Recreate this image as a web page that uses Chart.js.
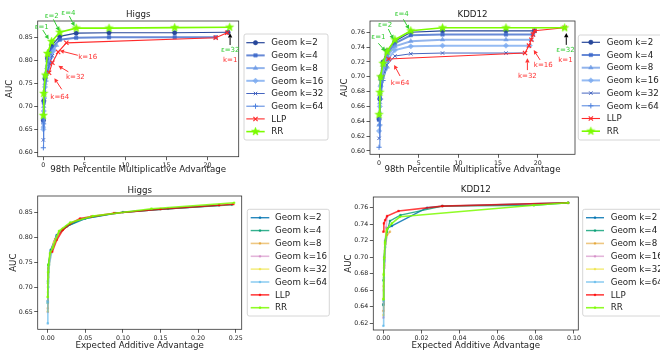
<!DOCTYPE html>
<html><head><meta charset="utf-8">
<script src="https://cdn.jsdelivr.net/npm/chart.js@4.4.1/dist/chart.umd.min.js"></script>
<style>
html,body{margin:0;padding:0;background:#fff;}
#wrap{position:relative;width:660px;height:352px;overflow:hidden;}
canvas{position:absolute;}
</style></head><body>
<div id="wrap">
<canvas id="c1" width="330" height="176" style="left:0;top:0"></canvas>
<canvas id="c2" width="330" height="176" style="left:330px;top:0"></canvas>
<canvas id="c3" width="330" height="176" style="left:0;top:176px"></canvas>
<canvas id="c4" width="330" height="176" style="left:330px;top:176px"></canvas>
</div>
<script>
// ---------- labels ----------
const seriesLabels = ['Geom k=2','Geom k=4','Geom k=8','Geom k=16','Geom k=32','Geom k=64','LLP','RR'];
const datasetNames = ['Higgs','KDD12'];
const mulLabel = '98th Percentile Multiplicative Advantage';
const addLabel = 'Expected Additive Advantage';

// ---------- Higgs, multiplicative (top-left) ----------
const hmX_g2 = [0, 0.05, 0.2, 0.5, 1, 2, 4, 8, 16, 22.5];
const hmY_g2 = [0.670, 0.712, 0.760, 0.805, 0.832, 0.852, 0.859, 0.860, 0.860, 0.861];
const hmX_g4 = [0, 0.05, 0.2, 0.5, 1, 2, 4, 8, 16, 21.0];
const hmY_g4 = [0.668, 0.708, 0.765, 0.800, 0.826, 0.845, 0.849, 0.850, 0.850, 0.850];
const hmX_g8 = [0, 0.05, 0.2, 0.5, 1, 1.6];
const hmY_g8 = [0.657, 0.700, 0.750, 0.790, 0.816, 0.833];
const hmX_g16 = [0, 0.05, 0.2, 0.45, 0.9, 1.3];
const hmY_g16 = [0.650, 0.690, 0.742, 0.782, 0.806, 0.822];
const hmX_g32 = [0, 0.04, 0.15, 0.4, 0.75, 1.1];
const hmY_g32 = [0.627, 0.680, 0.730, 0.770, 0.792, 0.810];
const hmX_g64 = [0, 0.03, 0.12, 0.3, 0.6, 0.9];
const hmY_g64 = [0.610, 0.662, 0.718, 0.755, 0.776, 0.796];
const hmX_llp = [0.7, 1.1, 1.8, 2.8, 21.0, 22.4];
const hmY_llp = [0.773, 0.795, 0.818, 0.838, 0.849, 0.860];
const hmX_rr = [0, 0.05, 0.25, 0.5, 1, 2, 4, 8, 16, 22.7];
const hmY_rr = [0.680, 0.728, 0.768, 0.815, 0.841, 0.861, 0.870, 0.870, 0.871, 0.872];
const hmXTicks = [0, 5, 10, 15, 20];
const hmYTicks = [0.60, 0.65, 0.70, 0.75, 0.80, 0.85];

// ---------- KDD12, multiplicative (top-right) ----------
const kmX_g2 = [0, 0.1, 0.2, 0.5, 1, 2, 4, 8, 16, 19.6];
const kmY_g2 = [0.643, 0.670, 0.700, 0.720, 0.735, 0.748, 0.760, 0.762, 0.762, 0.762];
const kmX_g4 = [0, 0.1, 0.2, 0.5, 1, 2, 4, 8, 16, 19.4];
const kmY_g4 = [0.642, 0.672, 0.697, 0.716, 0.731, 0.745, 0.756, 0.757, 0.757, 0.757];
const kmX_g8 = [0, 0.1, 0.2, 0.5, 1, 2, 4, 8, 16, 19.2];
const kmY_g8 = [0.635, 0.665, 0.690, 0.712, 0.727, 0.741, 0.748, 0.750, 0.750, 0.750];
const kmX_g16 = [0, 0.1, 0.2, 0.5, 1, 2, 4, 8, 16, 19.0];
const kmY_g16 = [0.627, 0.660, 0.687, 0.708, 0.722, 0.736, 0.741, 0.742, 0.742, 0.742];
const kmX_g32 = [0, 0.1, 0.2, 0.5, 1, 2, 4, 8, 16, 18.4];
const kmY_g32 = [0.617, 0.650, 0.680, 0.700, 0.716, 0.728, 0.731, 0.732, 0.732, 0.732];
const kmX_g64 = [0, 0.1, 0.2, 0.5, 1, 1.2];
const kmY_g64 = [0.605, 0.635, 0.670, 0.695, 0.712, 0.724];
const kmX_llp = [1.2, 18.4, 18.9, 19.2, 19.4, 19.6, 23.4];
const kmY_llp = [0.724, 0.732, 0.742, 0.750, 0.757, 0.762, 0.766];
const kmX_rr = [0, 0.1, 0.2, 0.5, 1, 2, 4, 8, 16, 23.4];
const kmY_rr = [0.649, 0.679, 0.700, 0.718, 0.734, 0.750, 0.762, 0.766, 0.766, 0.766];
const kmXTicks = [0, 5, 10, 15, 20];
const kmYTicks = [0.60, 0.62, 0.64, 0.66, 0.68, 0.70, 0.72, 0.74, 0.76];

// ---------- Higgs, additive (bottom-left) ----------
const haX_g2 = [0, 0.0003, 0.001, 0.004, 0.012, 0.026, 0.05, 0.10, 0.16, 0.228];
const haY_g2 = [0.672, 0.712, 0.745, 0.775, 0.805, 0.823, 0.838, 0.851, 0.858, 0.865];
const haX_g4 = [0, 0.0003, 0.001, 0.004, 0.012, 0.025, 0.045, 0.09, 0.15, 0.245];
const haY_g4 = [0.668, 0.708, 0.745, 0.772, 0.803, 0.822, 0.837, 0.849, 0.857, 0.866];
const haX_g8 = [0, 0.0003, 0.001, 0.004, 0.01, 0.02];
const haY_g8 = [0.657, 0.700, 0.738, 0.770, 0.797, 0.818];
const haX_g16 = [0, 0.0003, 0.001, 0.003, 0.009, 0.016];
const haY_g16 = [0.650, 0.690, 0.730, 0.765, 0.793, 0.812];
const haX_g32 = [0, 0.0002, 0.001, 0.003, 0.008, 0.014];
const haY_g32 = [0.651, 0.680, 0.720, 0.760, 0.790, 0.808];
const haX_g64 = [0, 0.0002, 0.0008, 0.002, 0.006, 0.012];
const haY_g64 = [0.627, 0.670, 0.700, 0.745, 0.775, 0.800];
const haX_llp = [0.006, 0.012, 0.02, 0.03, 0.043, 0.058, 0.088, 0.15, 0.228, 0.247];
const haY_llp = [0.771, 0.795, 0.815, 0.828, 0.838, 0.842, 0.849, 0.857, 0.865, 0.867];
const haX_rr = [0, 0.0005, 0.001, 0.003, 0.007, 0.015, 0.03, 0.06, 0.138, 0.248];
const haY_rr = [0.680, 0.730, 0.745, 0.768, 0.780, 0.813, 0.830, 0.843, 0.858, 0.870];
const haXTicks = [0, 0.05, 0.10, 0.15, 0.20, 0.25];
const haYTicks = [0.65, 0.70, 0.75, 0.80, 0.85];

// ---------- KDD12, additive (bottom-right) ----------
const kaX_g2 = [0, 0.0002, 0.0005, 0.001, 0.002, 0.0045, 0.023, 0.031, 0.097];
const kaY_g2 = [0.643, 0.672, 0.700, 0.720, 0.735, 0.738, 0.760, 0.762, 0.766];
const kaX_g4 = [0, 0.0002, 0.0005, 0.001, 0.002, 0.0035, 0.009, 0.031, 0.079, 0.097];
const kaY_g4 = [0.642, 0.672, 0.697, 0.716, 0.731, 0.744, 0.751, 0.762, 0.763, 0.766];
const kaX_g8 = [0, 0.0002, 0.0005, 0.001, 0.002, 0.0035];
const kaY_g8 = [0.635, 0.665, 0.690, 0.712, 0.727, 0.731];
const kaX_g16 = [0, 0.0002, 0.0004, 0.0008, 0.0015, 0.002];
const kaY_g16 = [0.627, 0.660, 0.687, 0.708, 0.736, 0.749];
const kaX_g32 = [0, 0.0001, 0.0003, 0.0006, 0.001, 0.0015];
const kaY_g32 = [0.630, 0.650, 0.680, 0.700, 0.716, 0.732];
const kaX_g64 = [0, 0.0001, 0.0003, 0.0006, 0.001, 0.0015];
const kaY_g64 = [0.617, 0.647, 0.675, 0.695, 0.712, 0.724];
const kaX_llp = [0, 0.0003, 0.001, 0.002, 0.008, 0.031, 0.097];
const kaY_llp = [0.731, 0.741, 0.745, 0.750, 0.756, 0.762, 0.766];
const kaX_rr = [0, 0.0002, 0.0005, 0.0009, 0.002, 0.0045, 0.0087, 0.079, 0.097];
const kaY_rr = [0.649, 0.679, 0.699, 0.718, 0.734, 0.741, 0.749, 0.763, 0.766];
const kaXTicks = [0, 0.02, 0.04, 0.06, 0.08, 0.10];
const kaYTicks = [0.62, 0.64, 0.66, 0.68, 0.70, 0.72, 0.74, 0.76];

// ---------- styles ----------
Chart.defaults.font.family = '"DejaVu Sans", sans-serif';
const FONT = '"DejaVu Sans", sans-serif';

function starCanvas(color, R) {
  const s = Math.ceil(2 * R + 2), c = document.createElement('canvas');
  c.width = s; c.height = s;
  const g = c.getContext('2d');
  g.beginPath();
  for (let i = 0; i < 10; i++) {
    const r = i % 2 === 0 ? R : R * 0.42;
    const a = -Math.PI / 2 + i * Math.PI / 5;
    const px = s / 2 + r * Math.cos(a), py = s / 2 + r * Math.sin(a);
    i === 0 ? g.moveTo(px, py) : g.lineTo(px, py);
  }
  g.closePath();
  g.fillStyle = color; g.fill();
  g.lineWidth = 0.6; g.strokeStyle = color; g.stroke();
  return c;
}

const topStyles = [
  {c: '#27479a', w: 1.2, ps: 'circle', r: 2.2, bw: 0.5},
  {c: 'rgba(52,98,200,0.75)', w: 2, ps: 'rect', r: 2.5, bw: 0.5},
  {c: 'rgba(100,148,228,0.7)', w: 2, ps: 'triangle', r: 2.7, bw: 0.5},
  {c: 'rgba(122,170,240,0.8)', w: 2, ps: 'rectRot', r: 2.7, bw: 0.5},
  {c: '#4666c0', w: 1, ps: 'crossRot', r: 2.4, bw: 1},
  {c: '#4f82de', w: 1, ps: 'cross', r: 2.6, bw: 1},
  {c: '#ff2a2a', w: 1.1, ps: 'crossRot', r: 3, bw: 1.1},
  {c: '#7cfc00', w: 1.6, ps: starCanvas('#7cfc00', 4.2), r: 4, bw: 0}
];
const botStyles = [
  {c: 'rgba(1,115,178,0.85)', w: 1.4, ps: 'rect', r: 1.2, bw: 0.5},
  {c: 'rgba(2,158,115,0.8)', w: 1.4, ps: 'rect', r: 1.2, bw: 0.5},
  {c: 'rgba(222,143,5,0.5)', w: 1.6, ps: 'rect', r: 1.2, bw: 0.5},
  {c: 'rgba(204,120,188,0.55)', w: 1.6, ps: 'rect', r: 1.2, bw: 0.5},
  {c: 'rgba(236,225,51,0.6)', w: 1.6, ps: 'rect', r: 1.2, bw: 0.5},
  {c: 'rgba(86,180,233,0.65)', w: 1.6, ps: 'rect', r: 1.2, bw: 0.5},
  {c: 'rgba(255,0,0,0.75)', w: 1.6, ps: 'rect', r: 1.2, bw: 0.5},
  {c: 'rgba(124,252,0,0.85)', w: 1.6, ps: 'rect', r: 1.2, bw: 0.5}
];

function buildSets(xs, ys, styles) {
  return xs.map((xa, i) => {
    const s = styles[i];
    return {
      label: seriesLabels[i],
      data: xa.map((x, j) => ({x: x, y: ys[i][j]})),
      showLine: true, tension: 0, fill: false,
      borderColor: s.c, backgroundColor: s.c, borderWidth: s.w,
      pointStyle: s.ps, pointRadius: s.r, pointBorderWidth: s.bw,
      pointBorderColor: s.c, pointBackgroundColor: s.c,
      order: xs.length - i
    };
  });
}

// ---------- decoration plugin ----------
function arrow(ctx, x1, y1, x2, y2, color) {
  const ang = Math.atan2(y2 - y1, x2 - x1), L = 4.2, W = 2.2;
  const bx = x2 - L * Math.cos(ang), by = y2 - L * Math.sin(ang);
  ctx.strokeStyle = color; ctx.fillStyle = color; ctx.lineWidth = 1;
  ctx.beginPath(); ctx.moveTo(x1, y1); ctx.lineTo(bx, by); ctx.stroke();
  ctx.beginPath(); ctx.moveTo(x2, y2);
  ctx.lineTo(bx + W * Math.sin(ang), by - W * Math.cos(ang));
  ctx.lineTo(bx - W * Math.sin(ang), by + W * Math.cos(ang));
  ctx.closePath(); ctx.fill();
}

const decor = {
  id: 'decor',
  afterDraw(chart, args, o) {
    const ctx = chart.ctx, a = chart.chartArea, xs = chart.scales.x, ys = chart.scales.y;
    ctx.save();
    ctx.strokeStyle = '#333'; ctx.lineWidth = 0.8;
    ctx.strokeRect(a.left, a.top, a.right - a.left, a.bottom - a.top);
    ctx.fillStyle = '#222'; ctx.font = '8.7px ' + FONT;
    ctx.textAlign = 'center'; ctx.textBaseline = 'middle';
    const cx = (a.left + a.right) / 2, cy = (a.top + a.bottom) / 2;
    ctx.fillText(o.title, cx, o.titleY);
    ctx.fillText(o.xLabel, cx, o.xLabelY);
    ctx.save(); ctx.translate(o.yLabelX, cy); ctx.rotate(-Math.PI / 2);
    ctx.fillText('AUC', 0, 0); ctx.restore();
    // annotations
    ctx.font = '7px ' + FONT;
    for (const n of (o.notes || [])) {
      if (n.text) {
        ctx.fillStyle = n.color;
        ctx.fillText(n.text, xs.getPixelForValue(n.at[0]), ys.getPixelForValue(n.at[1]));
      }
      if (n.from) {
        arrow(ctx, xs.getPixelForValue(n.from[0]), ys.getPixelForValue(n.from[1]),
              xs.getPixelForValue(n.to[0]), ys.getPixelForValue(n.to[1]), n.arrowColor || n.color);
      }
    }
    // legend
    const L = o.legend;
    ctx.fillStyle = 'rgba(255,255,255,0.85)'; ctx.strokeStyle = '#cccccc'; ctx.lineWidth = 0.8;
    ctx.beginPath();
    if (ctx.roundRect) ctx.roundRect(L.x, L.y, L.w, L.h, 2); else ctx.rect(L.x, L.y, L.w, L.h);
    ctx.fill(); ctx.stroke();
    ctx.font = '8.7px ' + FONT; ctx.textAlign = 'left';
    L.styles.forEach((s, i) => {
      const y = L.y0 + i * L.dy;
      ctx.strokeStyle = s.c; ctx.lineWidth = s.w;
      ctx.beginPath(); ctx.moveTo(L.x0, y); ctx.lineTo(L.x1, y); ctx.stroke();
      ctx.fillStyle = s.c; ctx.strokeStyle = s.c; ctx.lineWidth = s.bw;
      Chart.helpers.drawPoint(ctx, {pointStyle: s.ps, rotation: 0, radius: s.r, borderWidth: s.bw}, (L.x0 + L.x1) / 2, y);
      ctx.fillStyle = '#222';
      ctx.fillText(seriesLabels[i], L.tx, y + 0.5);
    });
    ctx.restore();
  }
};

function makeChart(id, datasets, cfg) {
  const tickOpts = (digits) => ({
    font: {size: 6.3, family: FONT}, color: '#222', padding: 1.5,
    maxRotation: 0, autoSkip: false,
    callback: (v) => Number(v).toFixed(digits)
  });
  const grid = {drawOnChartArea: false, drawTicks: true, tickLength: 3.5, color: '#333', lineWidth: 0.8};
  return new Chart(document.getElementById(id), {
    type: 'scatter',
    data: {datasets},
    options: {
      responsive: false, animation: false, events: [],
      layout: {padding: {left: 0, top: cfg.pt, right: cfg.pr, bottom: 0}},
      plugins: {legend: {display: false}, tooltip: {enabled: false}, decor: cfg.decor},
      scales: {
        x: {
          type: 'linear', min: cfg.xmin, max: cfg.xmax,
          afterBuildTicks: (s) => { s.ticks = cfg.xTicks.map(v => ({value: v})); },
          afterFit: (s) => { s.height = cfg.xh; },
          ticks: tickOpts(cfg.xd), grid: grid, border: {display: false}
        },
        y: {
          type: 'linear', min: cfg.ymin, max: cfg.ymax,
          afterBuildTicks: (s) => { s.ticks = cfg.yTicks.map(v => ({value: v})); },
          afterFit: (s) => { s.width = cfg.yw; },
          ticks: tickOpts(2), grid: grid, border: {display: false}
        }
      }
    },
    plugins: [decor]
  });
}

const GREEN = '#33cc33', RED = '#ff3333';

makeChart('c1',
  buildSets([hmX_g2, hmX_g4, hmX_g8, hmX_g16, hmX_g32, hmX_g64, hmX_llp, hmX_rr],
            [hmY_g2, hmY_g4, hmY_g8, hmY_g16, hmY_g32, hmY_g64, hmY_llp, hmY_rr], topStyles),
  {xmin: -0.69, xmax: 23.8, ymin: 0.5906, ymax: 0.8855, xTicks: hmXTicks, yTicks: hmYTicks, xd: 0,
   yw: 37.7, pt: 21, pr: 91.3, xh: 19.3,
   decor: {title: datasetNames[0], xLabel: mulLabel, titleY: 15, xLabelY: 170, yLabelX: 10,
     notes: [
       {text: 'ε=1', color: GREEN, at: [-0.2, 0.8717], from: [-0.07, 0.8659], to: [0.65, 0.8457]},
       {text: 'ε=2', color: GREEN, at: [1.02, 0.896], from: [1.22, 0.889], to: [1.95, 0.864]},
       {text: 'ε=4', color: GREEN, at: [3.05, 0.9035], from: [3.17, 0.896], to: [3.8, 0.874]},
       {text: 'ε=32', color: GREEN, at: [22.77, 0.8224]},
       {text: 'k=1', color: RED, at: [22.77, 0.8007], from: [22.75, 0.8333], to: [22.75, 0.8587], arrowColor: '#000'},
       {text: 'k=16', color: RED, at: [5.4, 0.807], from: [4.2, 0.811], to: [2.0, 0.821]},
       {text: 'k=32', color: RED, at: [3.9, 0.764], from: [3.05, 0.775], to: [1.83, 0.788]},
       {text: 'k=64', color: RED, at: [2.0, 0.72], from: [2.24, 0.737], to: [1.34, 0.761]}
     ],
     legend: {x: 244, y: 34, w: 84, h: 106, x0: 246.3, x1: 264.7, tx: 271.3, y0: 42.7, dy: 12.7, styles: topStyles}}});

makeChart('c2',
  buildSets([kmX_g2, kmX_g4, kmX_g8, kmX_g16, kmX_g32, kmX_g64, kmX_llp, kmX_rr],
            [kmY_g2, kmY_g4, kmY_g8, kmY_g16, kmY_g32, kmY_g64, kmY_llp, kmY_rr], topStyles),
  {xmin: -1.14, xmax: 24.7, ymin: 0.5955, ymax: 0.7752, xTicks: kmXTicks, yTicks: kmYTicks, xd: 0,
   yw: 40, pt: 21, pr: 85, xh: 21.7,
   decor: {title: datasetNames[1], xLabel: mulLabel, titleY: 15, xLabelY: 170, yLabelX: 15,
     notes: [
       {text: 'ε=1', color: GREEN, at: [-0.08, 0.7533], from: [-0.09, 0.7452], to: [0.8, 0.7345]},
       {text: 'ε=2', color: GREEN, at: [0.76, 0.7699], from: [1.17, 0.7644], to: [1.81, 0.7505]},
       {text: 'ε=4', color: GREEN, at: [2.86, 0.7847], from: [3.07, 0.7775], to: [3.8, 0.764]},
       {text: 'ε=32', color: GREEN, at: [23.5, 0.736]},
       {text: 'k=1', color: RED, at: [23.5, 0.7227], from: [23.6, 0.743], to: [23.6, 0.759], arrowColor: '#000'},
       {text: 'k=64', color: RED, at: [2.65, 0.692], from: [2.65, 0.701], to: [1.9, 0.716]},
       {text: 'k=32', color: RED, at: [18.7, 0.701], from: [18.7, 0.709], to: [18.7, 0.725]},
       {text: 'k=16', color: RED, at: [20.7, 0.715], from: [20.3, 0.7227], to: [19.5, 0.736]}
     ],
     legend: {x: 248.3, y: 35, w: 90, h: 105, x0: 251.7, x1: 270, tx: 276.7, y0: 42.3, dy: 12.7, styles: topStyles}}});

makeChart('c3',
  buildSets([haX_g2, haX_g4, haX_g8, haX_g16, haX_g32, haX_g64, haX_llp, haX_rr],
            [haY_g2, haY_g4, haY_g8, haY_g16, haY_g32, haY_g64, haY_llp, haY_rr], botStyles),
  {xmin: -0.0133, xmax: 0.258, ymin: 0.615, ymax: 0.8836, xTicks: haXTicks, yTicks: haYTicks, xd: 2,
   yw: 37.7, pt: 20, pr: 88.3, xh: 22.7,
   decor: {title: datasetNames[0], xLabel: addLabel, titleY: 14.3, xLabelY: 170, yLabelX: 13.3, notes: [],
     legend: {x: 247.3, y: 33.3, w: 82, h: 106.7, x0: 250.7, x1: 269.3, tx: 275, y0: 41.7, dy: 12.86, styles: botStyles}}});

makeChart('c4',
  buildSets([kaX_g2, kaX_g4, kaX_g8, kaX_g16, kaX_g32, kaX_g64, kaX_llp, kaX_rr],
            [kaY_g2, kaY_g4, kaY_g8, kaY_g16, kaY_g32, kaY_g64, kaY_llp, kaY_rr], botStyles),
  {xmin: -0.00524, xmax: 0.1023, ymin: 0.6119, ymax: 0.773, xTicks: kaXTicks, yTicks: kaYTicks, xd: 2,
   yw: 43.3, pt: 21, pr: 81.7, xh: 22,
   decor: {title: datasetNames[1], xLabel: addLabel, titleY: 13.3, xLabelY: 169.3, yLabelX: 18.3, notes: [],
     legend: {x: 252.7, y: 33.3, w: 90, h: 106.7, x0: 256, x1: 274, tx: 280.7, y0: 41.7, dy: 12.86, styles: botStyles}}});
</script>
</body></html>
